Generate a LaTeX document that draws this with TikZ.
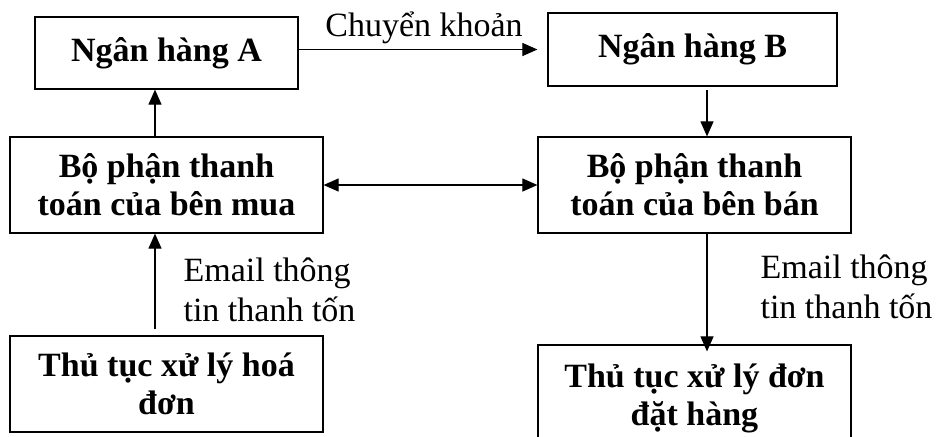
\documentclass[tikz,border=0pt]{standalone}
\usepackage{fontspec}
\setmainfont{Liberation Serif}
\usetikzlibrary{arrows.meta}
\begin{document}
\begin{tikzpicture}[x=0.5pt,y=-0.5pt,
	box/.style={draw, line width=0.6pt, align=center, inner sep=0pt,
		font=\fontsize{17}{19}\selectfont\bfseries},
	lbl/.style={align=left, inner sep=0pt, font=\fontsize{17}{20}\selectfont},
	>={Triangle[length=7.5pt,width=6.5pt]}, line width=0.55pt]
	\useasboundingbox (0,0) rectangle (938,436);
	
	%Banks
	\node[box, minimum width=131.5pt, minimum height=36pt] (A) at (166.5,53) {Ngân hàng A};
	\node[box, minimum width=144.5pt, minimum height=36.5pt] (B) at (692.5,49.5) {Ngân hàng B};
	
	%Payment departments
	\node[box, minimum width=156.5pt, minimum height=48pt] (P1) at (166.5,185) {Bộ phận thanh\\toán của bên mua};
	\node[box, minimum width=156.5pt, minimum height=48pt] (P2) at (694.5,185) {Bộ phận thanh\\toán của bên bán};
	
	%Procedures
	\node[box, minimum width=156.5pt, minimum height=48pt] (I) at (166.5,384) {Thủ tục xử lý hoá\\đơn};
	\node[box, minimum width=156.5pt, minimum height=53pt] (O) at (694.5,398) {Thủ tục xử lý đơn\\đặt hàng};
	
	%Arrows
	\draw[->] (A.east |- B.west) -- node[lbl, above=2.5pt, xshift=3pt] {Chuyển khoản} ([xshift=-5pt]B.west);
	\draw[->] ([xshift=-5.75pt]P1.north) -- ([xshift=-5.75pt]A.south);
	\draw[<->] (P1.east) -- (P2.west);
	\draw[->] ([xshift=7.25pt,yshift=-1.5pt]B.south) -- ([xshift=6.25pt]P2.north);
	\draw[->] ([xshift=-5.75pt,yshift=3pt]I.north) -- node[lbl, pos=0.41, right=14pt] {Email thông\\tin thanh tốn} ([xshift=-5.75pt]P1.south);
	\draw[->, shorten >=-3.5pt] ([xshift=6.25pt]P2.south) -- node[lbl, pos=0.48, right=26.5pt] {Email thông\\tin thanh tốn} ([xshift=6.25pt]O.north);
	
\end{tikzpicture}
\end{document}
